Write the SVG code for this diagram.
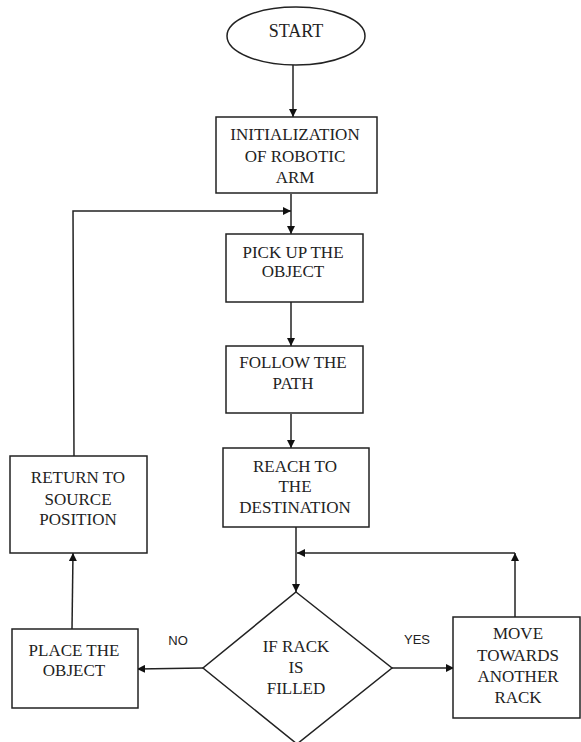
<svg xmlns="http://www.w3.org/2000/svg" width="581" height="742" viewBox="0 0 581 742">
<style>
.shape{fill:#fff;stroke:#222;stroke-width:1.5}
.t{font-family:'Liberation Serif','DejaVu Serif',serif;font-size:17px;fill:#222;text-anchor:middle}
.lbl{font-family:'Liberation Sans','DejaVu Sans',sans-serif;font-size:13px;fill:#222;text-anchor:middle}
.c{fill:none;stroke:#222;stroke-width:1.5}
</style>
<defs>
<marker id="ah" viewBox="0 0 10 10" refX="10" refY="5" markerWidth="8" markerHeight="8" markerUnits="userSpaceOnUse" orient="auto">
<path d="M0,0 L10,5 L0,10 Z" fill="#111"/>
</marker>
</defs>
<rect width="581" height="742" fill="#fff"/>
<g id="connectors">
<line class="c" x1="293" y1="65" x2="293" y2="117" marker-end="url(#ah)"/>
<line class="c" x1="291" y1="194" x2="291" y2="234" marker-end="url(#ah)"/>
<polyline class="c" points="74,456 73,211 291,211" marker-end="url(#ah)"/>
<line class="c" x1="291" y1="302" x2="291" y2="346" marker-end="url(#ah)"/>
<line class="c" x1="291" y1="414" x2="291" y2="448" marker-end="url(#ah)"/>
<line class="c" x1="296" y1="527" x2="296" y2="592" marker-end="url(#ah)"/>
<line class="c" x1="515" y1="617" x2="515" y2="553" marker-end="url(#ah)"/>
<line class="c" x1="515" y1="553" x2="297" y2="553" marker-end="url(#ah)"/>
<line class="c" x1="203" y1="668" x2="137" y2="669" marker-end="url(#ah)"/>
<line class="c" x1="392" y1="668" x2="454" y2="668" marker-end="url(#ah)"/>
<line class="c" x1="72" y1="629" x2="73" y2="553" marker-end="url(#ah)"/>
<text class="lbl" x="178" y="645" font-family="Liberation Sans, sans-serif">NO</text>
<text class="lbl" x="417" y="644" font-family="Liberation Sans, sans-serif">YES</text>
</g>
<g id="start">
<ellipse class="shape" cx="296" cy="36" rx="69" ry="29"/>
<text class="t" x="296" y="37" font-family="Liberation Serif, serif" style="font-size:18px">START</text>
</g>
<g id="init" font-family="Liberation Serif, serif">
<rect class="shape" x="216" y="117" width="161" height="76"/>
<text class="t" x="295" y="140">INITIALIZATION</text>
<text class="t" x="295" y="162">OF ROBOTIC</text>
<text class="t" x="295" y="183">ARM</text>
</g>
<g id="pick">
<rect class="shape" x="226" y="234" width="137" height="68"/>
<text class="t" x="293" y="258">PICK UP THE</text>
<text class="t" x="293" y="277">OBJECT</text>
</g>
<g id="follow">
<rect class="shape" x="226" y="346" width="137" height="67"/>
<text class="t" x="293" y="368">FOLLOW THE</text>
<text class="t" x="293" y="389">PATH</text>
</g>
<g id="reach">
<rect class="shape" x="223" y="448" width="146" height="79"/>
<text class="t" x="295" y="472">REACH TO</text>
<text class="t" x="295" y="492">THE</text>
<text class="t" x="295" y="513">DESTINATION</text>
</g>
<g id="return">
<rect class="shape" x="10" y="456" width="137" height="97"/>
<text class="t" x="78" y="483">RETURN TO</text>
<text class="t" x="78" y="505">SOURCE</text>
<text class="t" x="78" y="525">POSITION</text>
</g>
<g id="place">
<rect class="shape" x="12" y="629" width="126" height="79"/>
<text class="t" x="74" y="656">PLACE THE</text>
<text class="t" x="74" y="676">OBJECT</text>
</g>
<g id="decision">
<polygon class="shape" points="296,592 392,668 297,744 203,668"/>
<text class="t" x="296" y="652">IF RACK</text>
<text class="t" x="296" y="673">IS</text>
<text class="t" x="296" y="694">FILLED</text>
</g>
<g id="move">
<rect class="shape" x="453" y="617" width="127" height="101"/>
<text class="t" x="518" y="639">MOVE</text>
<text class="t" x="518" y="661">TOWARDS</text>
<text class="t" x="518" y="682">ANOTHER</text>
<text class="t" x="518" y="703">RACK</text>
</g>
</svg>
